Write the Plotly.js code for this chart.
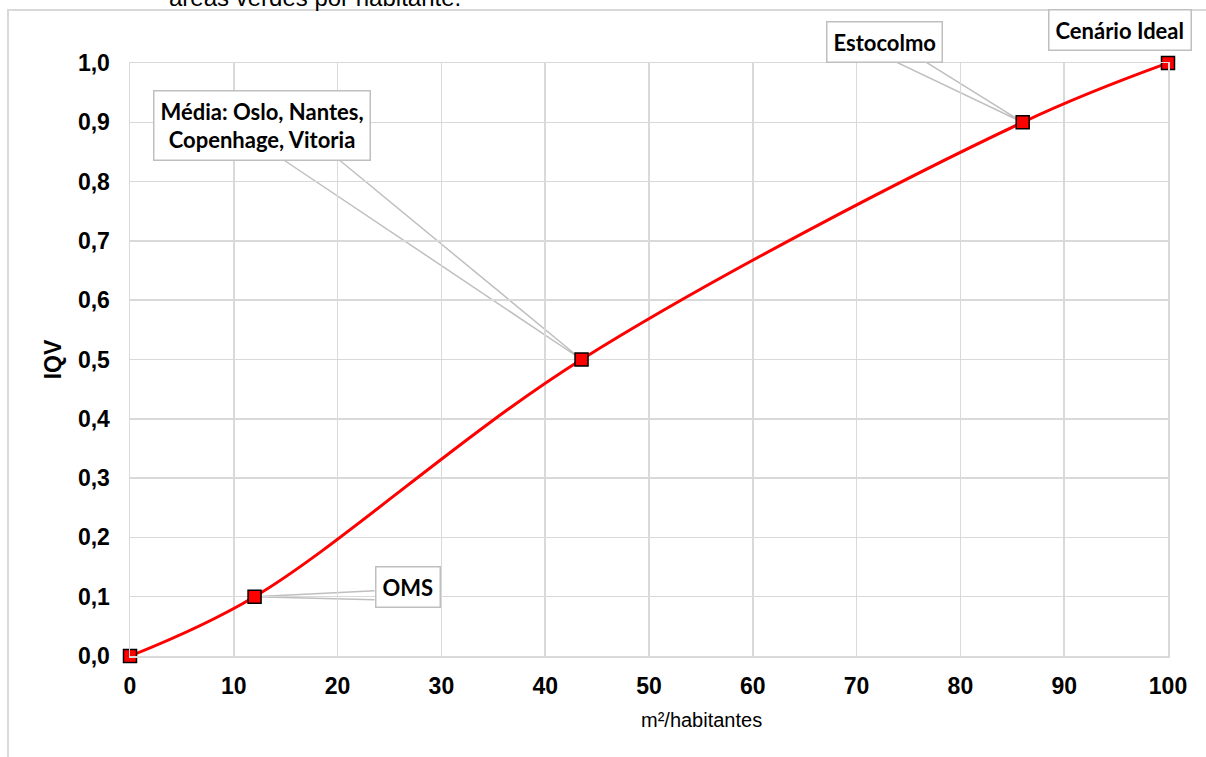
<!DOCTYPE html>
<html>
<head>
<meta charset="utf-8">
<script src="https://cdn.plot.ly/plotly-3.0.1.min.js"></script>
<style>
  html, body { margin: 0; padding: 0; background: #ffffff; }
  #chart { width: 1206px; height: 757px; }
</style>
</head>
<body>
<div id="chart"></div>
<script>
// Data
const areaPerInhabitant = [0, 12, 43.5, 86, 100];
const iqvValues = [0, 0.1, 0.5, 0.9, 1.0];
const pointLabels = ["", "OMS", "Média: Oslo, Nantes,<br>Copenhage, Vitoria", "Estocolmo", "Cenário Ideal"];
const xTickValues = [0, 10, 20, 30, 40, 50, 60, 70, 80, 90, 100];
const yTickValues = [0, 0.1, 0.2, 0.3, 0.4, 0.5, 0.6, 0.7, 0.8, 0.9, 1.0];

// Layout geometry (pixels)
const W = 1206, H = 757;
const M = {l: 130, r: 38, t: 63, b: 101};
const plotW = W - M.l - M.r, plotH = H - M.t - M.b;
const xRange = [0, 100], yRange = [0, 1];
const pxToX = px => xRange[0] + (px - M.l) / plotW * (xRange[1] - xRange[0]);
const pyToY = py => yRange[0] + (H - M.b - py) / plotH * (yRange[1] - yRange[0]);
const pxToPaperX = px => (px - M.l) / plotW;
const pyToPaperY = py => (H - M.b - py) / plotH;
const xToPx = x => M.l + (x - xRange[0]) / (xRange[1] - xRange[0]) * plotW;
const yToPy = y => H - M.b - (y - yRange[0]) / (yRange[1] - yRange[0]) * plotH;

// Callout placement: offsets of box centre and wedge base relative to the point (pixels)
const callouts = {
  1: {dx: 153, dy: -9.5, base: [[120, -6], [120, 3]]},
  2: {dx: -319.5, dy: -234.5, base: [[-300, -201], [-244, -201]]},
  3: {dx: -138.5, dy: -80.5, base: [[-128, -61], [-98, -61]]},
  4: {dx: -48, dy: -33, base: [[-40, -15], [-8, -15]]}
};

const calloutFont = {family: "Lato, 'Noto Sans', sans-serif", size: 22, color: "#000000", weight: 700};
const annotations = [];
const shapes = [];

for (const k of Object.keys(callouts)) {
  const i = +k;
  const c = callouts[i];
  const tipPx = xToPx(areaPerInhabitant[i]);
  const tipPy = yToPy(iqvValues[i]);
  annotations.push({
    x: pxToPaperX(tipPx + c.dx), y: pyToPaperY(tipPy + c.dy), xref: "paper", yref: "paper",
    text: "<b>" + pointLabels[i] + "</b>", showarrow: false,
    font: calloutFont, bgcolor: "#ffffff", bordercolor: "#bfbfbf", borderwidth: 1.5,
    borderpad: 6, xanchor: "center", yanchor: "middle", align: "center"
  });
  const b1 = c.base[0], b2 = c.base[1];
  shapes.push({
    type: "path", xref: "x", yref: "y", layer: "below",
    path: "M " + pxToX(tipPx + b1[0]) + " " + pyToY(tipPy + b1[1]) +
          " L " + areaPerInhabitant[i] + " " + iqvValues[i] +
          " L " + pxToX(tipPx + b2[0]) + " " + pyToY(tipPy + b2[1]),
    line: {color: "#bfbfbf", width: 1.5}
  });
}

// Outer frame (partially visible document border)
shapes.push({
  type: "path", xref: "paper", yref: "paper", layer: "above",
  path: "M " + pxToPaperX(8) + " " + pyToPaperY(H + 5) + " L " + pxToPaperX(8) + " " + pyToPaperY(10) +
        " L " + pxToPaperX(W + 5) + " " + pyToPaperY(10),
  line: {color: "#d9d9d9", width: 2}
});

// Cut-off caption at top of page
annotations.push({
  xref: "paper", yref: "paper", x: pxToPaperX(167), y: pyToPaperY(13),
  xanchor: "left", yanchor: "bottom", showarrow: false,
  text: "áreas verdes por habitante.",
  font: {family: "Liberation Sans, Arial, sans-serif", size: 24, color: "#000000"}
});

// X axis title
annotations.push({
  xref: "paper", yref: "paper", x: pxToPaperX(701), y: pyToPaperY(720),
  xanchor: "center", yanchor: "middle", showarrow: false,
  text: "m²/habitantes",
  font: {family: "Liberation Sans, Arial, sans-serif", size: 20, color: "#000000"}
});

const trace = {
  x: areaPerInhabitant, y: iqvValues, type: "scatter", mode: "lines+markers",
  line: {color: "#ff0000", width: 3, shape: "spline", smoothing: 1},
  marker: {symbol: "square", size: 13, color: "#ff0000", line: {color: "#000000", width: 1.5}},
  cliponaxis: false, hoverinfo: "skip"
};

const tickFont = {family: "Liberation Sans, Arial, sans-serif", size: 23, color: "#000000", weight: 700};

const layout = {
  width: W, height: H,
  margin: M,
  paper_bgcolor: "#ffffff", plot_bgcolor: "#ffffff",
  separators: ",.",
  showlegend: false,
  xaxis: {
    range: xRange, tickvals: xTickValues, tickformat: "d",
    showgrid: true, gridcolor: "#d9d9d9", gridwidth: 1.5,
    showline: true, mirror: true, linecolor: "#d9d9d9", linewidth: 1.5,
    zeroline: false, ticks: "outside", ticklen: 9, tickcolor: "rgba(0,0,0,0)",
    tickfont: tickFont, fixedrange: true
  },
  yaxis: {
    range: yRange, tickvals: yTickValues, tickformat: ".1f",
    showgrid: true, gridcolor: "#d9d9d9", gridwidth: 1.5,
    showline: true, mirror: true, linecolor: "#d9d9d9", linewidth: 1.5,
    zeroline: false, ticks: "outside", ticklen: 14, tickcolor: "rgba(0,0,0,0)",
    tickfont: tickFont, fixedrange: true,
    title: {text: "<b>IQV</b>", font: {family: "Liberation Sans, Arial, sans-serif", size: 23, color: "#000000"}, standoff: 10}
  },
  annotations: annotations,
  shapes: shapes
};

Plotly.newPlot("chart", [trace], layout, {staticPlot: true, displayModeBar: false});
</script>
</body>
</html>
